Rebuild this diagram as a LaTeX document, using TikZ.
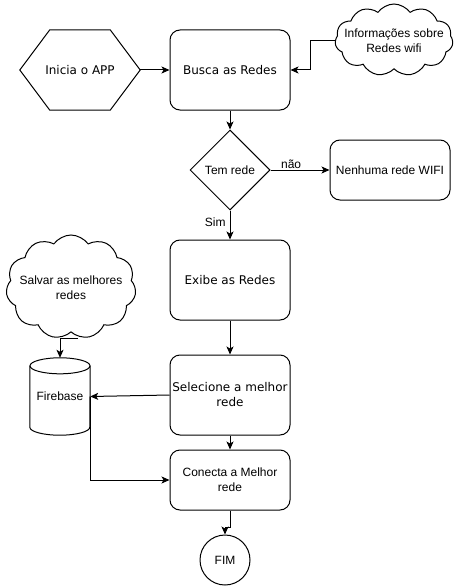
\documentclass[tikz,border=0pt]{standalone}
\usepackage{fontspec}
\setmainfont{Liberation Sans}
\newfontfamily\dvfont{DejaVu Sans}
\usetikzlibrary{shapes.symbols,shapes.geometric,arrows.meta}
\begin{document}
\begin{tikzpicture}[x=1pt,y=-1pt,
  every node/.style={font=\fontsize{12}{15}\selectfont},
  ln/.style={line width=1pt},
  arr/.style={ln,-{Stealth[length=8pt,width=7pt,inset=2pt]}},
  box/.style={ln,draw,rounded corners=10pt,minimum width=120pt,minimum height=80pt,align=center,inner sep=0pt},
  dec/.style={ln,draw,diamond,minimum width=80pt,minimum height=80pt,inner sep=0pt},
  cloudbox/.style={ln,draw,cloud,cloud puffs=11,cloud puff arc=110,inner sep=0pt},
  txt/.style={align=center,inner sep=0pt},
  lbl/.style={inner sep=1pt}
]
\useasboundingbox[fill=white] (0,0) rectangle (461,586);

% hexagon
\node[inner sep=0pt,minimum width=120pt,minimum height=80pt,font=\dvfont\fontsize{12}{15}\selectfont] (hex) at (80,70) {Inicia o APP};
\draw[ln] (hex.west) -- ([xshift=30pt]hex.north west) -- ([xshift=-30pt]hex.north east) -- (hex.east)
  -- ([xshift=-30pt]hex.south east) -- ([xshift=30pt]hex.south west) -- cycle;

\node[box,font=\dvfont\fontsize{12}{15}\selectfont] (busca) at (230,70) {Busca as Redes};
\node[cloudbox,minimum width=118pt,minimum height=72pt,aspect=1.64] (info) at (394,40) {};
\node[txt] (infotxt) at (394,41) {Informações sobre\\Redes wifi};
\node[dec] (tem) at (230,170) {Tem rede};
\node[box,minimum height=60pt] (nen) at (390,170) {Nenhuma rede WIFI};
\node[box,font=\dvfont\fontsize{12}{15}\selectfont] (exibe) at (230,280) {Exibe as Redes};
\node[box,font=\dvfont\fontsize{12}{15}\selectfont] (sel) at (230,395) {Selecione a melhor\\rede};
\node[box,minimum height=60pt] (con) at (230,480) {Conecta a Melhor\\rede};
\node[ln,draw,circle,minimum size=50pt,inner sep=0pt] (fim) at (225,560) {FIM};
\node[cloudbox,minimum width=130pt,minimum height=104pt,aspect=1.25] (salvar) at (71,287) {};
\node[txt] (salvartxt) at (71,288) {Salvar as melhores\\redes};

% cylinder
\node[inner sep=0pt,minimum width=60pt,minimum height=77pt] (fb) at (60,396.5) {Firebase};
\draw[ln] ([yshift=-8pt]fb.north west) -- ([yshift=8pt]fb.south west)
  arc[start angle=180,end angle=360,x radius=30pt,y radius=8pt]
  -- ([yshift=-8pt]fb.north east);
\draw[ln] ([yshift=-8pt]fb.north) ellipse[x radius=30pt,y radius=8pt];

% connectors
\draw[arr] (hex.east) -- (busca.west);
\coordinate (infobend) at (310,41);
\draw[arr] (info.west |- infobend) -- (infobend) |- (busca.east);
\draw[arr] (busca.south) -- (tem.north);
\draw[arr] (tem.east) -- node[lbl,above,pos=0.35] {não} (nen.west);
\draw[arr] (tem.south) -- node[lbl,left,pos=0.4,xshift=-3pt] {Sim} (exibe.north);
\draw[arr] (exibe.south) -- (sel.north);
\draw[arr] (sel.west) -- (fb.east);
\draw[arr] (sel.south) -- (con.north);
\draw[arr] (fb.east) |- (con.west);
\draw[arr] (con.south) -- ++(0,17) -| (fim.north);
\coordinate (sbend) at (78,338);
\draw[arr] (sbend) -| (fb.north);
\end{tikzpicture}
\end{document}
